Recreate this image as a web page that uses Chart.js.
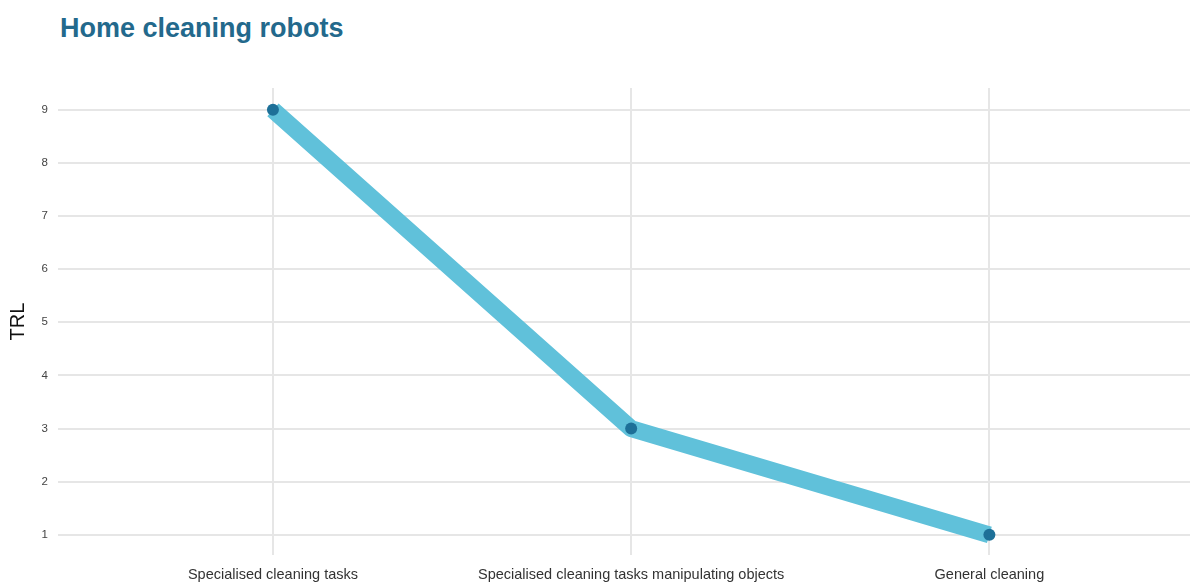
<!DOCTYPE html>
<html>
<head>
<meta charset="utf-8">
<script src="https://cdn.jsdelivr.net/npm/chart.js@4.4.1/dist/chart.umd.min.js"></script>
<style>
    html, body { margin: 0; padding: 0; background: #fff; }
    #wrap { position: relative; width: 1201px; height: 583px; }
    #title {
        position: absolute; left: 60px; top: 13px;
        font-family: "Liberation Sans", Arial, sans-serif;
        font-weight: bold; font-size: 27px; color: #23698c;
    }
    canvas { position: absolute; left: 0; top: 0; }
</style>
</head>
<body>
<div id="wrap">
    <div id="title">Home cleaning robots</div>
    <canvas id="chart" width="1201" height="583"></canvas>
</div>
<script>
// categories and TRL values
const categories = ['Specialised cleaning tasks', 'Specialised cleaning tasks manipulating objects', 'General cleaning']
const trlValues = [9, 3, 1]
const yTicks = [1, 2, 3, 4, 5, 6, 7, 8, 9]

const points = categories.map((c, i) => ({x: i, y: trlValues[i]}))

const ctx = document.getElementById('chart').getContext('2d')
new Chart(ctx, {
    type: 'line',
    data: {
        datasets: [{
            data: points,
            borderColor: '#60c1da',
            borderWidth: 17,
            borderJoinStyle: 'round',
            borderCapStyle: 'butt',
            pointRadius: 6,
            pointBackgroundColor: '#1d7098',
            pointBorderWidth: 0,
            tension: 0,
        }]
    },
    options: {
        responsive: false,
        animation: false,
        layout: {padding: {top: 88, right: 11, left: 0, bottom: 0}},
        plugins: {legend: {display: false}, tooltip: {enabled: false}},
        scales: {
            x: {
                type: 'linear',
                min: -0.6,
                max: 2.56,
                afterBuildTicks: axis => { axis.ticks = categories.map((c, i) => ({value: i})) },
                afterFit: scale => { scale.height = 28 },
                border: {display: false},
                grid: {color: '#e6e6e6', lineWidth: 2, drawTicks: false},
                ticks: {
                    padding: 11,
                    color: '#333',
                    font: {family: 'Liberation Sans', size: 14.5},
                    callback: v => categories[v],
                    maxRotation: 0,
                }
            },
            y: {
                min: 0.62,
                max: 9.41,
                afterBuildTicks: axis => { axis.ticks = yTicks.map(v => ({value: v})) },
                afterFit: scale => { scale.width = 58 },
                border: {display: false},
                grid: {color: '#e6e6e6', lineWidth: 2, drawTicks: false},
                ticks: {
                    padding: 10,
                    color: '#444',
                    font: {family: 'Liberation Sans', size: 11.5},
                },
                title: {
                    display: true,
                    text: 'TRL',
                    color: '#111',
                    font: {family: 'Liberation Sans', size: 20},
                    padding: {top: 6, bottom: 0},
                }
            }
        }
    }
})
</script>
</body>
</html>
